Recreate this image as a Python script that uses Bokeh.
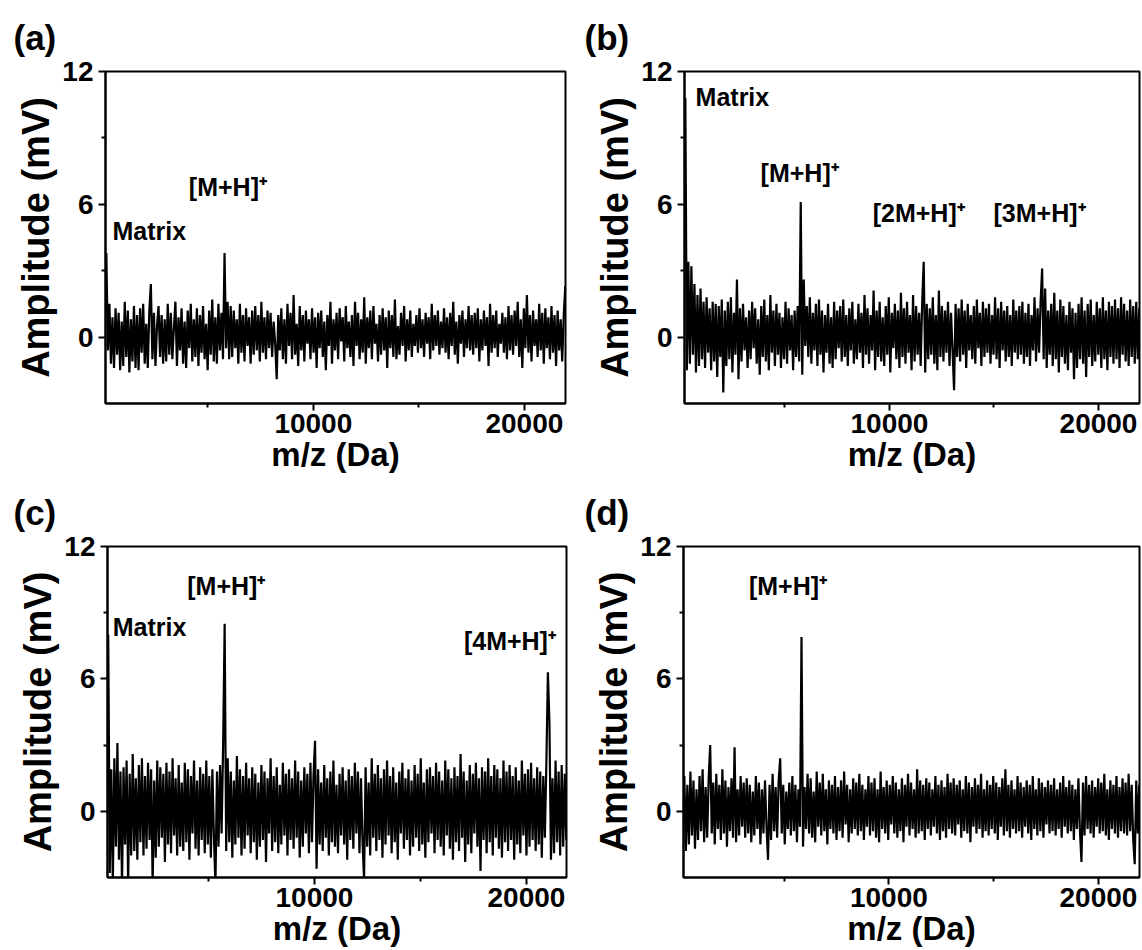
import numpy as np
from bokeh.plotting import figure
from bokeh.layouts import column, row
from bokeh.models import Range1d, FixedTicker, ColumnDataSource
from bokeh.core.properties import value
from bokeh.embed import file_html
from bokeh.resources import INLINE

# ---------------- data ----------------
panel_tags = ["(a)", "(b)", "(c)", "(d)"]
y_ticks = [0, 6, 12]
y_minor = [3, 9]
x_ticks = [10000, 20000]
x_minor = [5000, 15000]
y_limits = (-3, 12)

mz_range_a = (150, 21950)
mz_range_b = (200, 21960)
mz_range_c = (236, 21890)
mz_range_d = (200, 21960)

# first / last sampled m/z of each trace
mz_first = [190, 240, 270, 240]
mz_last = [21940, 21950, 21880, 21950]

amp_a = [
    3.8, -0.6, 1.5, -1.2, 0.9, -1.4, 1.3, -0.8, 1.1, -1.5, 0.7, -1.3, 1.6, -0.9, 1.2, -1.6, 0.8, -1.1, 1.4, -1.4,
    1.0, -1.5, 1.3, -0.7, 1.5, -1.2, 0.6, -1.4, 1.2, 2.4, -1.0, 1.1, -1.3, 0.5, 1.4, -0.9, 1.0, -1.2, 0.8, -1.1,
    1.5, -0.8, 1.1, -1.0, 0.4, 1.6, -1.3, 0.9, -0.6, 1.3, -1.2, 0.7, -1.4, 1.2, -0.5, 1.5, -1.1, 0.8, -0.9, 1.3,
    -1.3, 1.0, -0.7, 1.4, -1.0, 0.6, -1.5, 1.2, -0.8, 1.7, -1.1, 0.9, -1.2, 1.5, -0.6, 1.1, -1.0, 3.8, -0.5, 1.6,
    -1.0, 1.4, -0.9, 1.2, -0.5, 0.8, -1.2, 1.5, -0.7, 1.0, -1.1, 1.3, -0.4, 0.9, -1.2, 1.2, -0.8, 1.4, -0.6, 1.0,
    -1.1, 1.6, -0.7, 0.9, -1.0, 1.2, -0.5, 1.1, -0.9, 0.7, -0.3, -1.9, 1.0, -0.6, 1.3, -1.0, 0.8, -1.2, 1.5, -0.4,
    1.1, -1.0, 1.9, -0.8, 0.6, -1.3, 1.4, -0.6, 1.0, -1.1, 1.2, -0.3, 0.8, -1.0, 1.3, -0.7, 0.9, -1.4, 1.1, -0.5,
    1.2, -0.9, 0.7, -1.5, 1.0, -0.4, 1.6, -1.2, 0.8, -0.6, 1.1, -1.0, 1.3, -0.2, 0.9, -1.1, 1.4, -0.5, 0.7, -0.9,
    1.0, -1.3, 1.6, -0.4, 1.1, -1.0, 0.8, -0.7, 1.8, -1.2, 0.9, -0.5, 1.2, -1.0, 1.4, -0.3, 0.6, -1.1, 1.0, -0.8,
    1.3, -0.6, 0.9, -1.4, 1.2, -0.5, 1.0, -0.9, 1.7, -1.0, 0.5, -0.8, 1.1, -0.4, 1.4, -1.1, 0.8, -0.6, 1.2, -0.9,
    0.6, -0.4, 1.0, -0.7, 1.3, -0.5, 0.8, -0.9, 1.1, -0.3, 0.9, -1.0, 1.5, -0.6, 1.0, -0.4, 1.2, -0.8, 0.7, -0.5,
    1.3, -0.7, 0.9, -1.0, 1.1, -0.4, 1.6, -0.8, 0.7, -1.2, 1.0, -0.3, 1.2, -0.9, 0.8, -0.5, 1.4, -0.6, 1.0, -0.8,
    1.1, -0.5, 1.3, -1.1, 0.8, -0.6, 1.2, -0.4, 0.9, -1.3, 1.5, -0.7, 1.0, -0.5, 1.2, -0.9, 0.6, -0.3, 1.1, -0.7,
    0.9, -1.0, 1.4, -0.6, 1.0, -0.8, 1.2, -0.4, 1.6, -0.9, 0.8, -1.4, 1.3, -0.5, 1.9, -0.7, 1.0, -1.1, 1.2, -0.4,
    0.8, -0.9, 1.5, -0.6, 1.1, -1.2, 1.3, -0.5, 0.9, -1.0, 1.4, -0.7, 1.0, -1.3, 1.2, -0.6, 0.8, -1.1, 1.0, 2.3,
]

amp_b = [
    10.8, -1.5, 3.4, -1.2, 3.2, -0.8, 2.4, -1.6, 1.9, -1.3, 2.2, -1.0, 1.6, -1.4, 1.8, -0.7, 1.3, -1.5, 1.6, -1.1,
    1.5, -1.8, 1.4, -0.9, 1.7, -2.5, 1.2, -1.3, 1.6, -1.0, 1.8, -1.6, 1.1, -0.8, 2.6, -1.9, 1.3, -1.1, 1.5, -0.6,
    0.9, -1.4, 1.2, -1.0, 1.6, -0.5, 1.3, -1.2, 0.8, -1.7, 1.4, -0.9, 1.7, -1.1, 1.0, -1.5, 1.9, -0.7, 1.2, -1.3,
    1.5, -0.8, 1.1, -1.4, 0.9, -1.0, 1.6, -1.2, 1.3, -0.6, 1.0, -1.5, 1.2, -0.9, 1.4, -1.1, 6.1, -1.7, 2.6, -0.4,
    1.4, -0.9, 1.8, -1.2, 1.1, -0.6, 1.5, -1.3, 1.7, -0.8, 1.2, -1.6, 1.0, -0.7, 1.5, -1.2, 0.9, -1.4, 1.6, -1.0,
    1.2, -0.5, 1.4, -1.1, 1.7, -0.9, 1.0, -1.3, 1.3, -0.6, 1.6, -1.2, 0.8, -1.0, 1.5, -0.7, 1.1, -1.4, 1.9, -0.8,
    1.3, -1.2, 1.0, -0.6, 2.1, -1.5, 1.2, -0.9, 1.6, -1.1, 0.9, -1.3, 1.4, -0.8, 1.8, -1.6, 1.1, -0.5, 1.5, -1.0,
    1.2, -1.4, 2.0, -0.9, 1.3, -1.2, 1.6, -0.7, 1.0, -1.5, 1.9, -1.1, 1.4, -0.8, 1.1, -1.3, 1.6, 3.4, -1.6, 1.5,
    -1.0, 1.3, -0.8, 1.8, -1.2, 1.0, -1.5, 2.1, -0.9, 1.4, -1.1, 1.2, -0.7, 1.6, -1.3, 1.1, -0.6, -2.4, 1.5, -0.9,
    1.3, -1.1, 1.7, -0.8, 1.2, -1.4, 1.5, -0.6, 1.0, -1.0, 1.4, -1.2, 1.7, -0.5, 1.1, -1.3, 1.6, -0.9, 1.3, -0.7,
    1.5, -1.2, 1.0, -0.8, 1.8, -1.0, 1.3, -1.4, 1.6, -0.6, 1.2, -1.1, 1.4, -0.9, 1.0, -1.3, 1.7, -0.7, 1.2, -1.0,
    1.4, -0.8, 1.6, -1.2, 1.1, -0.9, 1.5, -1.3, 1.0, -0.6, 1.8, -1.1, 1.3, -0.7, 1.6, 3.1, -1.0, 2.2, -1.4, 1.2,
    -0.8, 1.5, -1.3, 2.0, -1.0, 1.2, -1.6, 1.7, -0.9, 1.4, -1.2, 1.0, -1.5, 1.6, -0.7, 1.3, -1.9, 1.1, -1.4, 1.5,
    -1.0, 1.8, -1.2, 1.2, -1.8, 1.5, -0.9, 1.7, -1.3, 1.0, -1.1, 1.6, -0.8, 1.3, -1.4, 1.8, -1.0, 1.2, -1.5, 1.6,
    -0.9, 1.4, -1.2, 1.7, -1.0, 1.3, -1.4, 1.8, -0.8, 1.5, -1.1, 1.2, -1.3, 1.7, -0.9, 1.4, -1.2, 1.6, -1.0, 1.3,
]

amp_c = [
    8.0, -2.8, 1.9, -3.3, 2.4, -1.6, 3.1, -2.2, 1.8, -3.4, 2.0, -1.5, 2.3, -3.3, 1.7, -2.0, 2.6, -1.8, 1.5, -2.2,
    2.1, -1.4, 2.4, -2.0, 1.6, -1.7, 2.2, -1.3, 1.9, -3.3, 1.4, -2.1, 2.3, -1.6, 2.0, -1.2, 1.7, -2.3, 2.2, -1.5,
    1.8, -1.9, 2.4, -1.1, 1.5, -2.0, 2.1, -1.6, 1.3, -1.8, 2.2, -1.4, 1.9, -2.2, 1.6, -1.0, 2.3, -1.7, 1.4, -2.0,
    2.0, -1.3, 1.7, -1.9, 2.3, -1.5, 1.6, -2.1, 1.9, -1.2, -3.3, 1.8, -1.6, 2.1, -1.0, 3.0, 8.5, -1.8, 2.4, -1.4,
    1.8, -2.1, 1.4, -1.5, 2.5, -1.2, 1.9, -2.0, 1.6, -1.7, 2.2, -1.1, 1.5, -1.9, 2.0, -1.4, 1.7, -2.2, 1.3, -1.6,
    2.1, -1.3, 1.8, -2.3, 1.5, -1.0, 2.4, -1.8, 1.6, -1.4, 2.0, -1.9, 1.2, -1.5, 2.2, -1.1, 1.7, -2.0, 1.9, -1.3,
    1.5, -1.7, 2.3, -1.2, 1.8, -2.1, 1.4, -1.6, 2.0, -1.0, 1.7, -1.9, 2.2, -1.4, 1.6, 3.2, -2.6, 1.9, -1.5, 1.3,
    -1.8, 2.1, -1.2, 1.5, -2.0, 1.8, -1.4, 2.3, -1.6, 1.2, -1.9, 1.7, -1.1, 2.0, -1.5, 1.4, -2.2, 1.9, -1.3, 1.6,
    -1.7, 2.2, -1.0, 1.8, -1.9, 1.5, -1.4, -3.1, 2.0, -1.6, 1.3, -2.0, 2.4, -1.2, 1.7, -1.8, 2.1, -1.3, 1.5, -2.1,
    1.9, -1.5, 2.3, -1.1, 1.6, -1.9, 2.0, -1.4, 1.3, -2.2, 1.8, -1.0, 2.2, -1.7, 1.5, -1.3, 1.9, -2.0, 1.4, -1.6,
    2.1, -1.2, 1.7, -1.8, 2.4, -1.5, 1.3, -2.1, 1.9, -1.4, 2.0, -1.0, 1.6, -1.9, 2.2, -1.3, 1.8, -1.6, 1.4, -2.0,
    2.3, -1.1, 1.9, -1.7, 1.5, -2.2, 2.0, -1.4, 1.6, -1.8, 2.6, -1.2, 1.8, -2.3, 1.4, -1.5, 2.1, -1.9, 1.7, -1.0,
    2.2, -1.6, 1.5, -2.7, 2.0, -1.3, 1.8, -1.9, 2.4, -1.4, 1.6, -2.0, 2.1, -1.2, 1.9, -1.7, 1.5, -2.1, 2.3, -1.4,
    1.8, -1.8, 2.1, -1.3, 1.6, -2.2, 2.0, -1.5, 1.4, -1.9, 2.3, -1.1, 1.7, -2.0, 1.9, -1.6, 2.2, -1.3, 1.5, -1.8,
    2.0, -1.5, 1.8, -2.1, 1.6, -1.2, 2.2, 6.3, 4.0, -2.2, 1.5, -1.9, 2.3, -1.4, 1.8, -2.0, 2.1, -1.6, 1.7, -1.3,
]

amp_d = [
    1.6, -1.8, 1.2, -1.5, 1.8, -1.1, 1.4, -1.7, 1.0, -1.3, 1.6, -0.9, 1.9, -1.4, 1.1, -1.2, 1.5, 3.0, -1.0, 1.3,
    -1.5, 1.7, -0.8, 1.2, -1.3, 1.9, -1.0, 1.4, -1.6, 1.1, -0.9, 1.5, -1.2, 2.9, -1.4, 1.0, -1.1, 1.6, -0.7, 1.3,
    -1.2, 1.5, -1.0, 1.2, -1.4, 0.9, -1.1, 1.6, -0.8, 1.3, -1.5, 1.0, -1.0, 1.4, -0.7, -2.2, 1.2, -1.3, 1.7, -0.9,
    1.1, -1.2, 1.4, 2.4, -1.0, 1.2, -1.5, 0.9, -0.8, 1.3, -1.1, 1.6, -0.9, 1.2, -1.4, 1.0, -0.7, 7.9, -1.6, 1.1,
    -0.8, 1.7, -1.0, 1.5, -1.2, 0.9, -1.4, 1.8, -0.7, 1.3, -1.1, 1.7, -0.9, 1.0, -1.5, 1.4, -0.8, 1.2, -1.0, 1.6,
    -1.3, 1.1, -0.9, 1.4, -1.2, 1.8, -0.6, 1.2, -1.4, 1.0, -1.0, 1.5, -0.8, 1.3, -1.1, 1.7, -0.9, 1.2, -1.3, 1.0,
    -0.7, 1.6, -1.1, 1.3, -0.9, 1.5, -1.2, 1.0, -1.4, 1.8, -0.8, 1.1, -1.0, 1.4, -1.3, 1.2, -0.6, 1.6, -1.0, 1.3,
    -1.2, 1.0, -0.9, 1.5, -1.4, 1.2, -0.7, 1.7, -1.1, 1.3, -0.8, 1.0, -1.2, 1.9, -1.0, 1.4, -0.9, 1.2, -1.3, 1.5,
    -0.8, 1.3, -1.1, 1.0, -0.7, 1.6, -1.0, 1.2, -1.3, 1.4, -0.9, 1.1, -1.2, 1.7, -0.8, 1.3, -1.0, 1.5, -1.1, 1.2,
    -0.6, 1.4, -1.2, 1.0, -0.9, 1.6, -1.0, 1.3, -1.4, 1.1, -0.7, 1.5, -1.0, 1.2, -0.8, 1.7, -1.2, 1.0, -0.9, 1.4,
    -1.1, 1.2, -0.8, 1.6, -1.0, 1.3, -1.3, 1.1, -0.7, 1.5, -1.1, 1.9, -0.9, 1.2, -1.2, 1.4, -0.8, 1.0, -1.0, 1.6,
    -0.9, 1.3, -1.2, 1.1, -0.7, 1.4, -1.0, 1.2, -1.3, 1.6, -0.8, 1.0, -1.1, 1.5, -0.9, 1.3, -1.2, 1.1, -0.6, 1.4,
    -1.0, 1.2, -0.9, 1.5, -1.1, 1.0, -0.8, 1.3, -1.2, 1.6, -0.7, 1.1, -1.0, 1.4, -0.9, 1.2, -1.3, 1.0, -0.8, 1.5,
    -0.9, -2.3, 1.3, -1.1, 1.6, -0.8, 1.2, -1.0, 1.4, -1.2, 1.1, -0.7, 1.5, -1.0, 1.3, -0.9, 1.7, -1.1, 1.0, -1.3,
    1.4, -0.8, 1.2, -1.0, 1.6, -1.2, 1.1, -0.9, 1.5, -1.0, 1.3, -1.1, 1.7, -0.9, 1.2, -1.3, -2.4, 1.4, -1.0, 1.2,
]

# peak annotations: text, left m/z, amplitude (text middle)
labels_a = ["Matrix", "[M+H]\u207a"]
label_mz_a = [480, 4100]
label_amp_a = [4.8, 6.8]

labels_b = ["Matrix", "[M+H]\u207a", "[2M+H]\u207a", "[3M+H]\u207a"]
label_mz_b = [730, 3840, 9200, 14980]
label_amp_b = [10.85, 7.4, 5.6, 5.6]

labels_c = ["Matrix", "[M+H]\u207a", "[4M+H]\u207a"]
label_mz_c = [480, 4000, 17050]
label_amp_c = [8.35, 10.2, 7.7]

labels_d = ["[M+H]\u207a"]
label_mz_d = [3320]
label_amp_d = [10.2]

FONT = "Liberation Sans"


def make_panel(tag, mz_range, first, last, amp, texts, tx, ty, borders):
    left, right, top, bottom = borders
    p = figure(width=571, height=475, output_backend="svg", toolbar_location=None,
               x_range=Range1d(*mz_range), y_range=Range1d(*y_limits),
               min_border_left=left, min_border_right=right,
               min_border_top=top, min_border_bottom=bottom)
    mz = np.linspace(first, last, len(amp))
    p.line(mz, amp, line_color="black", line_width=2.2)
    src = ColumnDataSource(dict(x=tx, y=ty, t=texts))
    p.text(x="x", y="y", text="t", source=src, text_font=value(FONT),
           text_font_style="bold", text_font_size="25px", text_color="black",
           text_baseline="middle", text_align="left")

    p.xgrid.visible = False
    p.ygrid.visible = False
    p.outline_line_color = "black"
    p.outline_line_width = 2
    p.background_fill_color = "white"
    p.border_fill_color = "white"

    p.title.text = tag
    p.title.text_font = FONT
    p.title.text_font_size = "35px"
    p.title.text_font_style = "bold"
    p.title.text_color = "black"
    p.title.align = "left"
    p.title.offset = -(left - 13)
    p.title.standoff = 30

    xa = p.xaxis[0]
    xa.ticker = FixedTicker(ticks=x_ticks, minor_ticks=x_minor)
    xa.axis_label = "m/z (Da)"
    ya = p.yaxis[0]
    ya.ticker = FixedTicker(ticks=y_ticks, minor_ticks=y_minor)
    ya.axis_label = "Amplitude (mV)"
    for ax in (xa, ya):
        ax.axis_line_width = 2
        ax.axis_line_color = "black"
        ax.major_tick_line_width = 2
        ax.minor_tick_line_width = 2
        ax.major_tick_in = 0
        ax.major_tick_out = 7
        ax.minor_tick_in = 0
        ax.minor_tick_out = 4
        ax.major_label_text_font = FONT
        ax.major_label_text_font_style = "bold"
        ax.major_label_text_font_size = "28px"
        ax.major_label_text_color = "black"
        ax.axis_label_text_font = FONT
        ax.axis_label_text_font_style = "bold"
        ax.axis_label_text_color = "black"
    xa.major_label_standoff = 3
    xa.axis_label_standoff = 0
    xa.axis_label_text_font_size = "33px"
    ya.major_label_standoff = 5
    ya.axis_label_standoff = 2
    ya.axis_label_text_font_size = "38px"
    return p


pa = make_panel(panel_tags[0], mz_range_a, mz_first[0], mz_last[0], amp_a,
                labels_a, label_mz_a, label_amp_a, (105, 6, 68, 72))
pb = make_panel(panel_tags[1], mz_range_b, mz_first[1], mz_last[1], amp_b,
                labels_b, label_mz_b, label_amp_b, (113, 3, 70, 71))
pc = make_panel(panel_tags[2], mz_range_c, mz_first[2], mz_last[2], amp_c,
                labels_c, label_mz_c, label_amp_c, (107, 5, 66, 73))
pd = make_panel(panel_tags[3], mz_range_d, mz_first[3], mz_last[3], amp_d,
                labels_d, label_mz_d, label_amp_d, (112, 3, 70, 72))

layout = column(row(pa, pb), row(pc, pd))
open("out.html", "w").write(file_html(layout, INLINE))
